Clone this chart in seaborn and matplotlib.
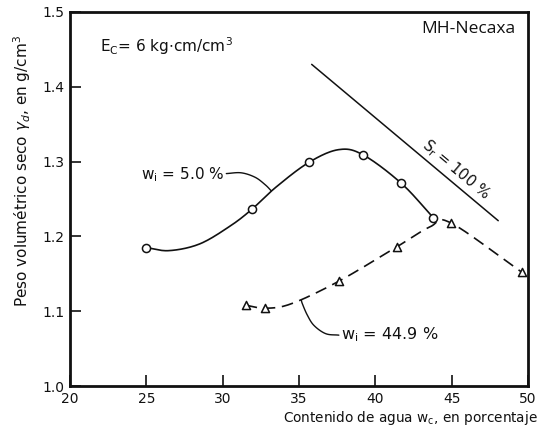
import numpy as np
import pandas as pd
import matplotlib
matplotlib.use("Agg")
import matplotlib.pyplot as plt
import seaborn as sns

# Measured compaction points (water content %, dry unit weight g/cm3)
wc_dry = [25.0, 31.9, 35.65, 39.2, 41.7, 43.8]
gd_dry = [1.185, 1.236, 1.299, 1.309, 1.271, 1.225]

wc_wet = [31.5, 32.8, 37.6, 41.4, 44.95, 49.6]
gd_wet = [1.108, 1.104, 1.140, 1.186, 1.218, 1.152]

# Points along the hand-drawn fitted curves
curve_dry_w = [25.0, 26.5, 28.5, 30.5, 31.9, 33.5, 35.65, 37.6, 39.2, 41.7, 43.8]
curve_dry_g = [1.185, 1.181, 1.190, 1.214, 1.236, 1.266, 1.299, 1.316, 1.309, 1.271, 1.225]

curve_wet_w = [31.5, 32.8, 34.5, 37.6, 41.4, 43.6, 44.95, 49.6]
curve_wet_g = [1.108, 1.104, 1.110, 1.140, 1.186, 1.213, 1.218, 1.152]

# Saturation line Sr = 100 %
sat_w = [35.83, 48.05]
sat_g = [1.430, 1.221]

# Leader lines for the curve labels
lead_dry_w = [30.24, 31.22, 32.13, 32.79, 33.18]
lead_dry_g = [1.284, 1.285, 1.279, 1.269, 1.261]
lead_wet_w = [37.61, 36.75, 35.98, 35.54, 35.22, 35.15]
lead_wet_g = [1.068, 1.070, 1.081, 1.095, 1.110, 1.115]

x_ticks = [20, 25, 30, 35, 40, 45, 50]
y_ticks = [1.0, 1.1, 1.2, 1.3, 1.4, 1.5]


def catmull_rom(xs, ys, n=20):
    """Smooth path through the given points (uniform Catmull-Rom)."""
    p = np.column_stack([xs, ys]).astype(float)
    p = np.vstack([2 * p[0] - p[1], p, 2 * p[-1] - p[-2]])
    out = []
    t = np.linspace(0, 1, n, endpoint=False)[:, None]
    for i in range(1, len(p) - 2):
        p0, p1, p2, p3 = p[i - 1], p[i], p[i + 1], p[i + 2]
        seg = 0.5 * ((2 * p1) + (-p0 + p2) * t +
                     (2 * p0 - 5 * p1 + 4 * p2 - p3) * t ** 2 +
                     (-p0 + 3 * p1 - 3 * p2 + p3) * t ** 3)
        out.append(seg)
    out.append(p[-2][None, :])
    out = np.vstack(out)
    return pd.DataFrame({"w": out[:, 0], "g": out[:, 1]})


sns.set_theme(style="white")
plt.rcParams["font.family"] = ["DejaVu Sans"]

fig = plt.figure(figsize=(5.4, 4.33), dpi=100)
ax = fig.add_axes([0.1296, 0.1085, 0.8482, 0.8638])

ink = "#111111"

sns.lineplot(data=catmull_rom(curve_dry_w, curve_dry_g), x="w", y="g",
             sort=False, color=ink, lw=1.2, ax=ax)
sns.lineplot(data=catmull_rom(curve_wet_w, curve_wet_g), x="w", y="g",
             sort=False, color=ink, lw=1.2, ax=ax, dashes=False,
             linestyle=(0, (7, 4)))
sns.lineplot(x=sat_w, y=sat_g, color=ink, lw=1.1, ax=ax)
sns.lineplot(data=catmull_rom(lead_dry_w, lead_dry_g), x="w", y="g",
             sort=False, color=ink, lw=1.0, ax=ax)
sns.lineplot(data=catmull_rom(lead_wet_w, lead_wet_g), x="w", y="g",
             sort=False, color=ink, lw=1.0, ax=ax)

sns.scatterplot(x=wc_dry, y=gd_dry, marker="o", s=34, facecolor="white",
                edgecolor=ink, linewidth=1.1, zorder=5, ax=ax)
sns.scatterplot(x=wc_wet, y=gd_wet, marker="^", s=34, facecolor="white",
                edgecolor=ink, linewidth=1.1, zorder=5, ax=ax)

ax.set_xlim(20, 50)
ax.set_ylim(1.0, 1.5)
ax.set_xticks(x_ticks)
ax.set_yticks(y_ticks)
ax.set_xticklabels([str(v) for v in x_ticks], fontsize=10, color=ink)
ax.set_yticklabels([f"{v:.1f}" for v in y_ticks], fontsize=10, color=ink)
ax.tick_params(axis="both", direction="in", length=8, width=1.2,
               colors=ink, bottom=True, left=True, pad=4)
for s in ax.spines.values():
    s.set_color(ink)
    s.set_linewidth(2.0)
ax.set_xlabel("")
ax.set_ylabel("")

fig.text(0.041, 0.605, "Peso volumétrico seco $\\gamma_d$, en g/cm$^3$",
         rotation=90, ha="center", va="center", fontsize=11, color=ink)
fig.text(0.996, 0.035, "Contenido de agua w$_\\mathrm{c}$, en porcentaje",
         ha="right", va="center", fontsize=9.8, color=ink)

ax.text(21.96, 1.455, "E$_\\mathrm{C}$= 6 kg$\\cdot$cm/cm$^3$",
        ha="left", va="center", fontsize=11, color=ink)
ax.text(49.2, 1.477, "MH-Necaxa", ha="right", va="center",
        fontsize=12.5, color=ink, family="Open Sans")
ax.text(30.1, 1.282, "w$_\\mathrm{i}$ = 5.0 %", ha="right", va="center",
        fontsize=11, color=ink)
ax.text(37.75, 1.069, "w$_\\mathrm{i}$ = 44.9 %", ha="left", va="center",
        fontsize=11.5, color=ink)
ax.text(45.25, 1.290, "S$_\\mathrm{r}$ = 100 %", ha="center", va="center",
        rotation=-40, fontsize=10.5, color=ink)

fig.savefig("out.png", dpi=100)
